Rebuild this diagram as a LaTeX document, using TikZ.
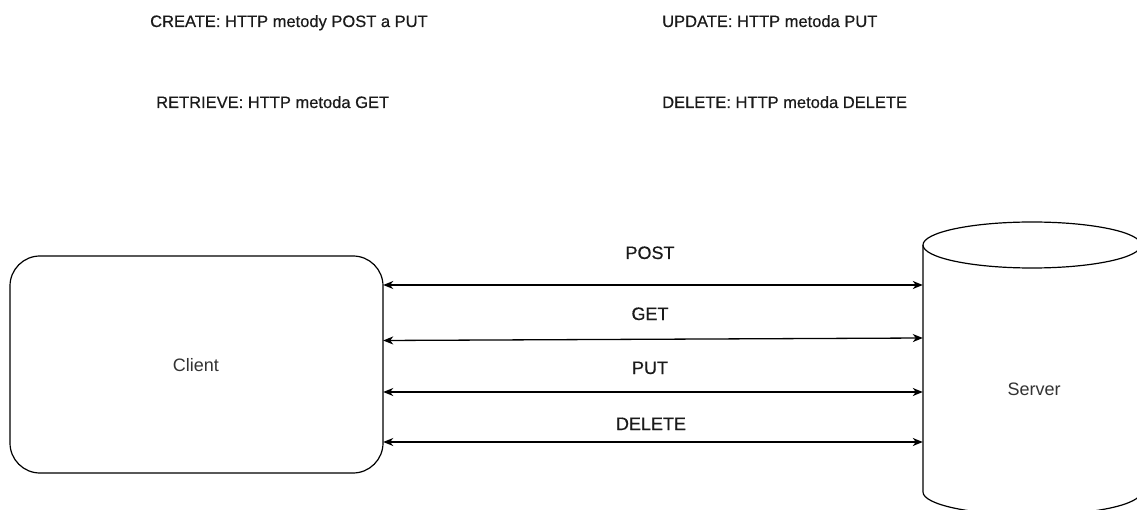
\documentclass[tikz,border=0pt]{standalone}
\usepackage{fontspec}
\setmainfont{Liberation Sans}
\newfontfamily\semifont[FakeBold=0.5]{Liberation Sans}
\usetikzlibrary{arrows.meta}
\definecolor{txtgray}{HTML}{333333}
\definecolor{lblgray}{HTML}{1a1a1a}
\begin{document}
\begin{tikzpicture}[x=1pt,y=-1pt,
  toptext/.style={anchor=base west,inner sep=0pt,font=\semifont\fontsize{16.5}{18}\selectfont,text=lblgray},
  lbl/.style={anchor=base,inner sep=0pt,font=\semifont\fontsize{18}{20}\selectfont,text=lblgray},
  shapetext/.style={inner sep=0pt,font=\fontsize{18}{20}\selectfont,text=txtgray},
  conn/.style={line width=1.3pt,{Stealth[length=10pt,width=8pt,inset=3pt]}-{Stealth[length=10pt,width=8pt,inset=3pt]}}]
\useasboundingbox (0,0) rectangle (1137,510);
\clip (0,0) rectangle (1137,510);
% top texts
\node[toptext] (create) at (150,27) {CREATE: HTTP metody POST a PUT};
\node[toptext] (update) at (662,27) {UPDATE: HTTP metoda PUT};
\node[toptext] (retrieve) at (156,108) {RETRIEVE: HTTP metoda GET};
\node[toptext] (delete) at (662,108) {DELETE: HTTP metoda DELETE};
% client
\draw[line width=1.2pt,fill=white,rounded corners=30pt] (10,256) rectangle (383,473);
\node[shapetext,minimum width=373pt,minimum height=217pt] (client) at (196.5,364.5) {};
\node[shapetext] (clienttext) at (196,365) {Client};
% server cylinder
\draw[line width=1.2pt,fill=white] (923,245) -- (923,492)
  arc[start angle=180,end angle=0,x radius=109,y radius=23] -- (1141,245);
\draw[line width=1.2pt,fill=white] (1032,245) ellipse[x radius=109,y radius=23];
\node[shapetext,minimum width=218pt,minimum height=247pt] (server) at (1032,368.5) {};
\node[shapetext] (servertext) at (1034,389) {Server};
% connectors
\draw[conn] (client.east |- 0,285) -- (server.west |- 0,285);
\draw[conn] (client.east |- 0,340.5) -- (server.west |- 0,338);
\draw[conn] (client.east |- 0,392) -- (server.west |- 0,392);
\draw[conn] (client.east |- 0,442) -- (server.west |- 0,442);
% labels
\node[lbl] (lpost) at (650,259) {POST};
\node[lbl] (lget) at (650,320) {GET};
\node[lbl] (lput) at (650,374) {PUT};
\node[lbl] (ldel) at (651,430) {DELETE};
\end{tikzpicture}
\end{document}
